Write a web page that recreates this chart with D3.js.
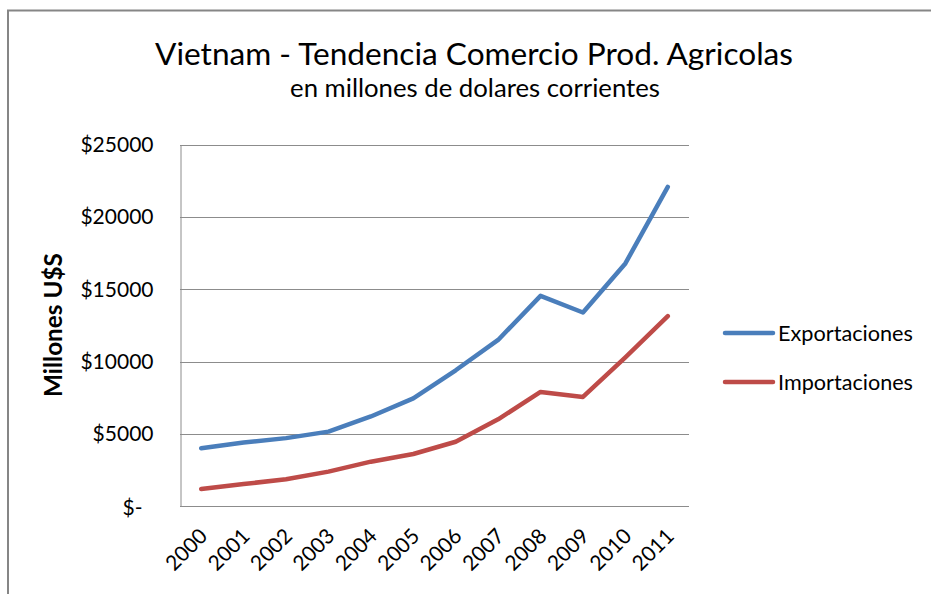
<!DOCTYPE html>
<html>
<head>
<meta charset="utf-8">
<script src="https://cdn.jsdelivr.net/npm/d3@7"></script>
<style>
  body { margin: 0; background: #fff; }
  text { font-family: Lato, "Open Sans", sans-serif; fill: #000; }
</style>
</head>
<body>
<svg id="chart" width="931" height="594"></svg>
<script>
// data (millions of current US$)
const years = ["2000", "2001", "2002", "2003", "2004", "2005",
               "2006", "2007", "2008", "2009", "2010", "2011"];
const exportaciones = [4000, 4400, 4700, 5150, 6200, 7450, 9400, 11500, 14550, 13400, 16800, 22100];
const importaciones = [1180, 1520, 1850, 2380, 3070, 3600, 4450, 6000, 7900, 7550, 10300, 13150];
const yTicks = [0, 5000, 10000, 15000, 20000, 25000];
const seriesNames = ["Exportaciones", "Importaciones"];
const seriesColors = ["#4a7ebb", "#be4b48"];

const svg = d3.select("#chart");

// plot area
const plot = { left: 180, right: 689, top: 145, bottom: 506 };

// shrink/grow a text's font size so that it spans the given width
function fitText(sel, width) {
    const size = parseFloat(sel.attr("font-size"));
    const len = sel.node().getComputedTextLength();
    sel.attr("font-size", (size * width / len).toFixed(2) + "px");
}

// chart frame (runs off the right and bottom of the picture)
svg.append("rect")
    .attr("x", 8).attr("y", 10.5)
    .attr("width", 1000).attr("height", 700)
    .attr("fill", "#fff")
    .attr("stroke", "#868686")
    .attr("stroke-width", 2);

// titles
const title = svg.append("text")
    .attr("x", 474).attr("y", 65)
    .attr("text-anchor", "middle")
    .attr("font-size", "30px")
    .text("Vietnam - Tendencia Comercio Prod. Agricolas");
fitText(title, 638);

const subtitle = svg.append("text")
    .attr("x", 475).attr("y", 97)
    .attr("text-anchor", "middle")
    .attr("font-size", "20px")
    .text("en millones  de dolares corrientes");
fitText(subtitle, 370);

// scales
const x = d3.scalePoint()
    .domain(years)
    .range([plot.left, plot.right])
    .padding(0.5);

const y = d3.scaleLinear()
    .domain([0, 25000])
    .range([plot.bottom, plot.top]);

// horizontal gridlines
svg.append("g")
    .selectAll("line")
    .data(yTicks.filter(d => d > 0))
    .join("line")
    .attr("x1", plot.left).attr("x2", plot.right)
    .attr("y1", d => Math.round(y(d)) + 0.5)
    .attr("y2", d => Math.round(y(d)) + 0.5)
    .attr("stroke", "#8c8c8c")
    .attr("stroke-width", 1);

// y axis
const yAxis = svg.append("g")
    .attr("transform", `translate(${plot.left + 0.5},0)`)
    .call(d3.axisLeft(y)
        .tickValues(yTicks)
        .tickSize(0)
        .tickPadding(27)
        .tickFormat(d => d === 0 ? "$-" : "$" + d));
yAxis.select(".domain").attr("stroke", "#8c8c8c");
yAxis.selectAll(".tick text")
    .attr("font-size", "21px")
    .attr("font-family", "Lato, 'Open Sans', sans-serif")
    .attr("dx", d => d === 0 ? -11 : 0)
    .attr("dy", d => d === 0 ? "0.42em" : "0.32em");

// x axis
const xAxis = svg.append("g")
    .attr("transform", `translate(0,${plot.bottom + 0.5})`)
    .call(d3.axisBottom(x).tickSize(0).tickPadding(0));
xAxis.select(".domain")
    .attr("stroke", "#8c8c8c")
    .attr("d", `M${plot.left},0H${plot.right}`);
xAxis.selectAll(".tick text")
    .attr("font-size", "21px")
    .attr("font-family", "Lato, 'Open Sans', sans-serif")
    .attr("text-anchor", "end")
    .attr("dy", null)
    .attr("y", 0)
    .attr("transform", "translate(7,31) rotate(-45)");

// y axis title
const yTitle = svg.append("text")
    .attr("transform", "translate(62,325) rotate(-90)")
    .attr("text-anchor", "middle")
    .attr("font-size", "20px")
    .attr("font-weight", "bold")
    .text("Millones U$S");
fitText(yTitle, 144);

// lines
const line = d3.line()
    .x((d, i) => x(years[i]))
    .y(d => y(d));

const series = [exportaciones, importaciones];
svg.append("g")
    .selectAll("path")
    .data(series)
    .join("path")
    .attr("d", d => line(d))
    .attr("fill", "none")
    .attr("stroke", (d, i) => seriesColors[i])
    .attr("stroke-width", 4.5)
    .attr("stroke-linecap", "round")
    .attr("stroke-linejoin", "round");

// legend
const legend = svg.append("g")
    .selectAll("g")
    .data(seriesNames)
    .join("g")
    .attr("transform", (d, i) => `translate(725,${333 + i * 49})`);

legend.append("line")
    .attr("x1", 0).attr("x2", 48)
    .attr("stroke", (d, i) => seriesColors[i])
    .attr("stroke-width", 4.5)
    .attr("stroke-linecap", "round");

legend.append("text")
    .attr("x", 53)
    .attr("dy", "0.35em")
    .attr("font-size", "21px")
    .text(d => d)
    .each(function() { fitText(d3.select(this), 135); });
</script>
</body>
</html>
